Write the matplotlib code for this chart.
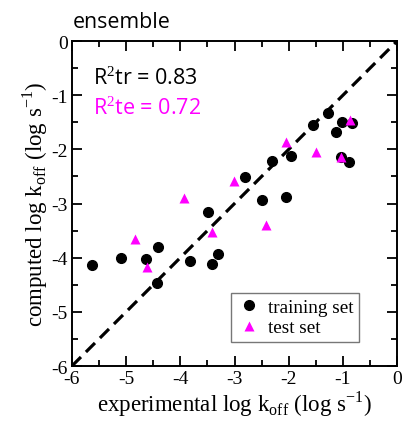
import matplotlib.pyplot as plt
from matplotlib.ticker import MultipleLocator

# training set (black circles)
train_exp = [-5.63, -5.10, -4.63, -4.41, -4.43, -3.82, -3.49, -3.42, -3.31,
             -2.81, -2.49, -2.31, -2.05, -1.96, -1.55, -1.28, -1.13, -1.02,
             -0.83, -1.04, -0.89]
train_cmp = [-4.13, -4.00, -4.02, -3.80, -4.47, -4.06, -3.16, -4.11, -3.93,
             -2.51, -2.93, -2.22, -2.88, -2.12, -1.55, -1.33, -1.67, -1.50,
             -1.52, -2.14, -2.23]

# test set (magenta triangles)
test_exp = [-4.84, -4.62, -3.93, -3.42, -3.01, -2.42, -2.05, -1.50, -1.04, -0.87]
test_cmp = [-3.65, -4.18, -2.90, -3.52, -2.58, -3.39, -1.87, -2.05, -2.14, -1.46]

diag = [-6, 0]

plt.rcParams['font.family'] = ['Liberation Serif', 'DejaVu Serif']
plt.rcParams['mathtext.fontset'] = 'custom'
plt.rcParams['mathtext.rm'] = 'Liberation Serif'
plt.rcParams['axes.unicode_minus'] = False

fig = plt.figure(figsize=(4.04, 4.27), dpi=100)
ax = fig.add_axes([0.178, 0.1405, 0.805, 0.761])

ax.plot(diag, diag, color='black', ls=(0, (4, 2.2)), lw=2.3, zorder=1)
ax.plot(train_exp, train_cmp, 'o', color='black', ms=7, label='training set', zorder=2)
ax.plot(test_exp, test_cmp, '^', color='#ff00ff', ms=7.5, mec='none',
        label='test set', zorder=3)

ax.set_xlim(-6, 0)
ax.set_ylim(-6, 0)
ax.xaxis.set_major_locator(MultipleLocator(1))
ax.yaxis.set_major_locator(MultipleLocator(1))
ax.xaxis.set_minor_locator(MultipleLocator(0.5))
ax.yaxis.set_minor_locator(MultipleLocator(0.5))
ax.tick_params(which='both', direction='in', top=True, right=True, width=1.3)
ax.tick_params(which='major', length=7, labelsize=14, pad=3)
ax.tick_params(which='minor', length=4)
for s in ax.spines.values():
    s.set_linewidth(1.4)

ax.set_xlabel(r'experimental log k$_{\mathrm{off}}$ (log s$^{\mathrm{-1}}$)', fontsize=16.5, labelpad=1)
ax.set_ylabel(r'computed log k$_{\mathrm{off}}$ (log s$^{\mathrm{-1}}$)', fontsize=16.5, labelpad=1)

leg = ax.legend(loc='lower right', bbox_to_anchor=(0.883, 0.074), fontsize=13.8,
                frameon=True, fancybox=False, handletextpad=0.4, borderpad=0.3,
                labelspacing=0.15, handlelength=1.2, borderaxespad=0)
leg.get_frame().set_edgecolor('#555555')
leg.get_frame().set_linewidth(1.0)

sans = ['Open Sans', 'DejaVu Sans']
fig.text(0.181, 0.935, 'ensemble', fontsize=15.4, family=sans)
ax.text(0.065, 0.889, r'R$^2$tr = 0.83', transform=ax.transAxes, fontsize=15.5,
        family=sans, color='black', va='center')
ax.text(0.065, 0.797, r'R$^2$te = 0.72', transform=ax.transAxes, fontsize=15.5,
        family=sans, color='#ff00ff', va='center')

fig.savefig('out.png', dpi=100)
